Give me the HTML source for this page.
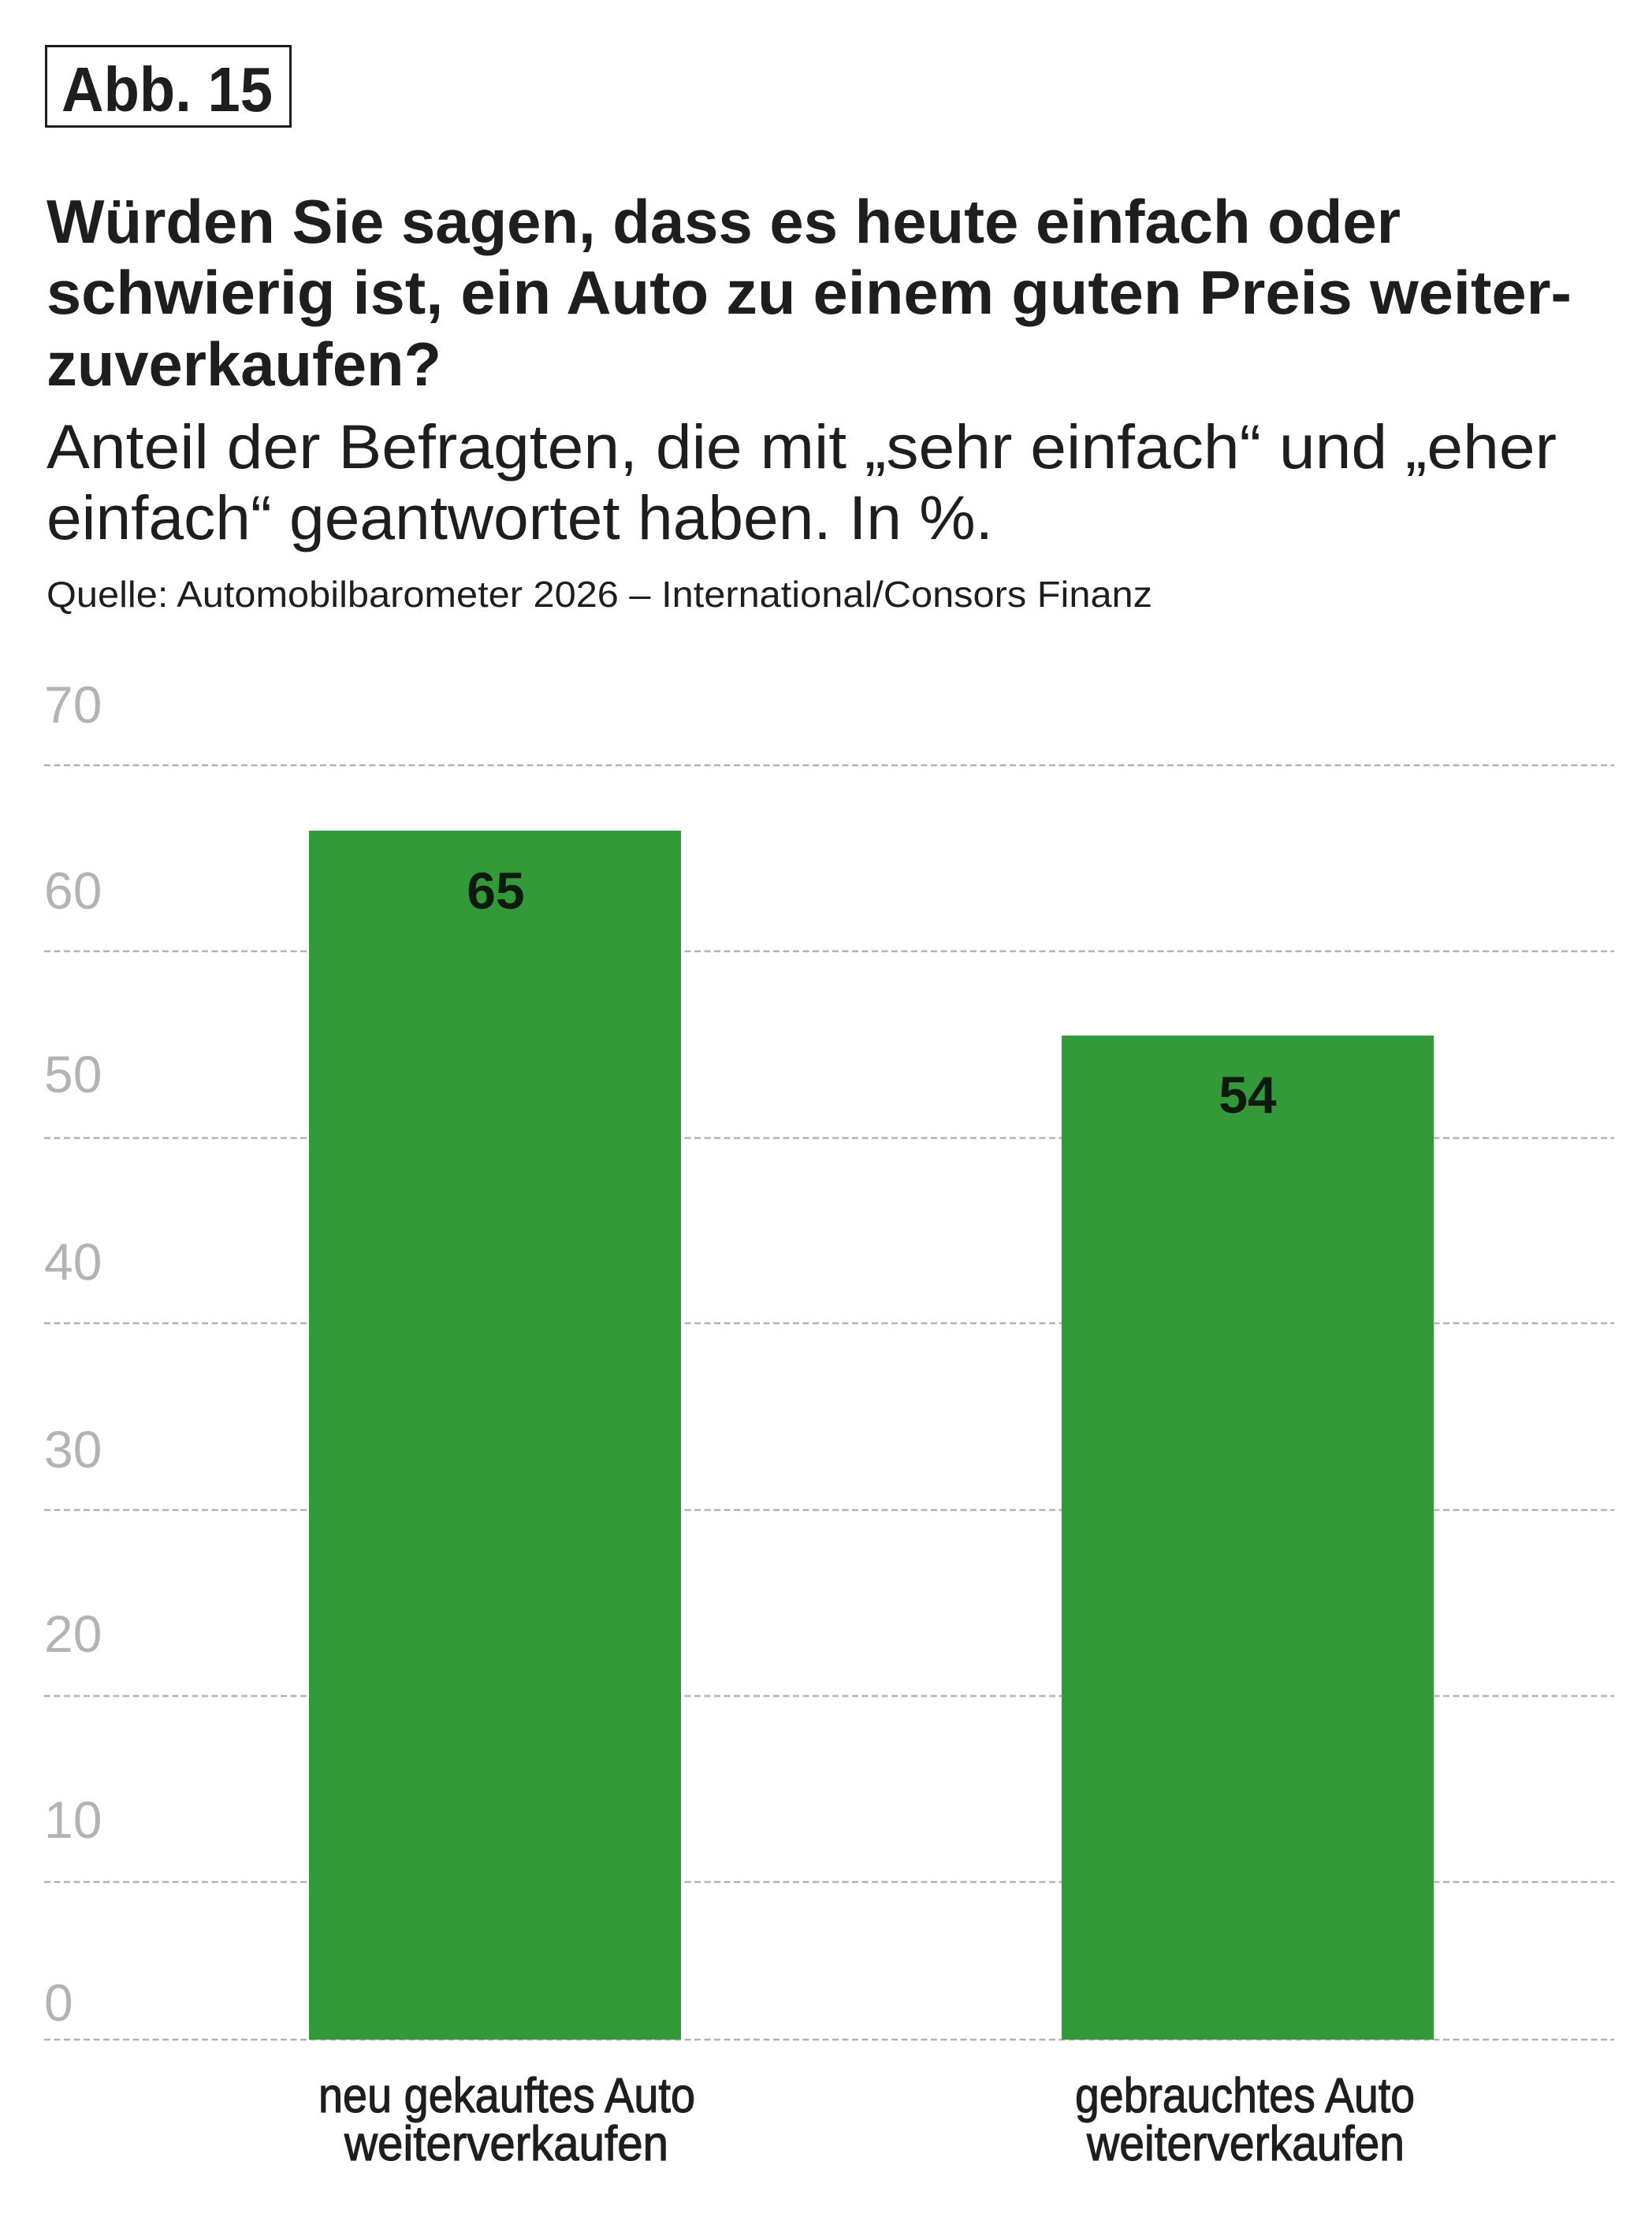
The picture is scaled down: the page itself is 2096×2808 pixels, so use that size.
<!DOCTYPE html>
<html><head><meta charset="utf-8"><style>
html,body{margin:0;padding:0;background:#fff;}
svg{display:block;}
</style></head><body>
<svg width="2096" height="2808" viewBox="0 0 2096 2808" xmlns="http://www.w3.org/2000/svg">
<rect x="0" y="0" width="2096" height="2808" fill="#fff"/>
<rect x="58.5" y="58.5" width="310" height="102" fill="none" stroke="#1e1e1e" stroke-width="3"/>
<g font-family="Liberation Sans, sans-serif" fill="#1e1e1e">
<text x="78" y="141" font-size="80" font-weight="bold" textLength="268" lengthAdjust="spacingAndGlyphs">Abb. 15</text>
<text x="59" y="308" font-size="78" font-weight="bold" textLength="1718" lengthAdjust="spacingAndGlyphs">Würden Sie sagen, dass es heute einfach oder</text>
<text x="59" y="398" font-size="78" font-weight="bold" textLength="1935" lengthAdjust="spacingAndGlyphs">schwierig ist, ein Auto zu einem guten Preis weiter-</text>
<text x="59" y="489" font-size="78" font-weight="bold" textLength="501" lengthAdjust="spacingAndGlyphs">zuverkaufen?</text>
<text x="59" y="594" font-size="79" textLength="1916" lengthAdjust="spacingAndGlyphs">Anteil der Befragten, die mit „sehr einfach“ und „eher</text>
<text x="59" y="684" font-size="79" textLength="1201" lengthAdjust="spacingAndGlyphs">einfach“ geantwortet haben. In %.</text>
<text x="59" y="770" font-size="46" textLength="1403" lengthAdjust="spacingAndGlyphs">Quelle: Automobilbarometer 2026 – International/Consors Finanz</text>
</g>
<g stroke="#b3b3b3" stroke-width="2.5" stroke-dasharray="8,4.5">
<line x1="56" x2="2048" y1="971" y2="971"/>
<line x1="56" x2="2048" y1="1207" y2="1207"/>
<line x1="56" x2="2048" y1="1444" y2="1444"/>
<line x1="56" x2="2048" y1="1679" y2="1679"/>
<line x1="56" x2="2048" y1="1916" y2="1916"/>
<line x1="56" x2="2048" y1="2152" y2="2152"/>
<line x1="56" x2="2048" y1="2388" y2="2388"/>
<line x1="56" x2="2048" y1="2588" y2="2588"/>
</g>
<g font-family="Liberation Sans, sans-serif" font-size="66" fill="#b3b3b3">
<text x="56" y="917">70</text>
<text x="56" y="1153">60</text>
<text x="56" y="1386">50</text>
<text x="56" y="1624">40</text>
<text x="56" y="1862">30</text>
<text x="56" y="2096">20</text>
<text x="56" y="2332">10</text>
<text x="56" y="2564">0</text>
</g>
<rect x="392" y="1054" width="472" height="1534" fill="#339a3a"/>
<rect x="1347" y="1314" width="472" height="1274" fill="#339a3a"/>
<g font-family="Liberation Sans, sans-serif" font-size="66" font-weight="bold" fill="#0d1a0d" text-anchor="middle">
<text x="629" y="1153">65</text>
<text x="1583" y="1412">54</text>
</g>
<g font-family="Liberation Sans, sans-serif" font-size="62" fill="#1e1e1e" stroke="#1e1e1e" stroke-width="1.2">
<text x="404" y="2680" textLength="478" lengthAdjust="spacingAndGlyphs">neu gekauftes Auto</text>
<text x="437" y="2741" textLength="411" lengthAdjust="spacingAndGlyphs">weiterverkaufen</text>
<text x="1364" y="2680" textLength="431" lengthAdjust="spacingAndGlyphs">gebrauchtes Auto</text>
<text x="1379" y="2741" textLength="403" lengthAdjust="spacingAndGlyphs">weiterverkaufen</text>
</g>
</svg>
</body></html>
